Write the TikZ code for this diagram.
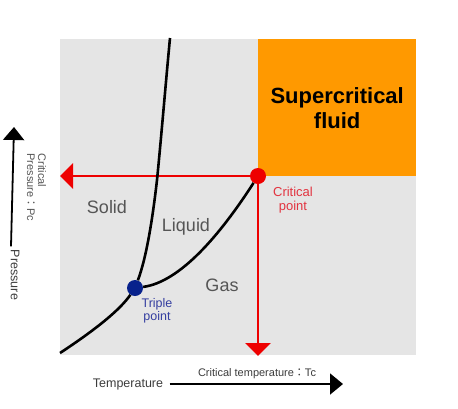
\documentclass[tikz,border=0pt]{standalone}
\usepackage{fontspec}
\setmainfont{Liberation Sans}
\newfontfamily\cjk{Noto Sans CJK JP}
\usetikzlibrary{positioning,arrows.meta}
\definecolor{PhaseGray}{RGB}{229,229,229}
\definecolor{FluidOrange}{RGB}{255,153,0}
\definecolor{CritRed}{RGB}{238,0,0}
\definecolor{CritText}{RGB}{226,52,64}
\definecolor{TripleBlue}{RGB}{8,34,140}
\definecolor{TripleText}{RGB}{52,62,160}
\definecolor{LabelGray}{RGB}{85,85,85}
\definecolor{AxisText}{RGB}{60,60,60}
\tikzset{
  redarrow/.style={-{Triangle[length=13pt,width=25pt]},line width=2.6pt,draw=CritRed},
  axisarrow/.style={-{Triangle[length=13pt,width=21pt]},line width=1.8pt,draw=black},
  boundary/.style={line width=2.6pt,draw=black},
  regionbox/.style={fill=PhaseGray,inner sep=0pt,anchor=north west},
  fluidbox/.style={fill=FluidOrange,inner sep=0pt,anchor=north west,align=center,
    font=\bfseries\fontsize{22}{25}\selectfont},
  phaselabel/.style={font=\fontsize{18}{20}\selectfont,text=LabelGray},
  critdot/.style={circle,fill=CritRed,minimum size=16pt,inner sep=0pt},
  tripdot/.style={circle,fill=TripleBlue,minimum size=16pt,inner sep=0pt},
  axislabel/.style={font=\fontsize{12.5}{14}\selectfont,text=AxisText},
  smalllabel/.style={font=\fontsize{11}{11.5}\selectfont,text=LabelGray}
}
\begin{document}
\begin{tikzpicture}[x=1pt,y=-1pt]
  \useasboundingbox (0,0) rectangle (458,408);
  % phase regions
  \node[regionbox,minimum width=356pt,minimum height=316pt] (plot) at (60,39) {};
  \node[fluidbox,minimum width=158pt,minimum height=137pt] (scf) at (258,39) {Supercritical\\fluid};
  \node[phaselabel] (solid) at (107,207) {Solid};
  \node[phaselabel] (liquid) at (186,227) {Liquid};
  \node[phaselabel] (gas) at (222,285) {Gas};
  % points
  \node[critdot] (crit) at (258,176) {};
  \node[tripdot] (trip) at (135,288) {};
  \coordinate (pcTip) at (60,176);
  \coordinate (tcTip) at (258,356);
  \coordinate (subStart) at (60,353);
  \coordinate (meltEnd) at (170,38);
  \draw[redarrow] (crit) -- (pcTip);
  \draw[redarrow] (crit) -- (tcTip);
  % phase boundaries
  \draw[boundary] (subStart) .. controls (95,330) and (120,310) .. (trip);
  \draw[boundary] (trip) .. controls (147,256) and (153,215) .. (157,180)
    .. controls (161,140) and (166,80) .. (meltEnd);
  \draw[boundary] (trip) .. controls (180,282) and (220,235) .. (crit);
  \node[font=\fontsize{13}{14.5}\selectfont,text=CritText,align=center] (critlabel) at (293,200) {Critical\\point};
  \node[font=\fontsize{12.5}{13}\selectfont,text=TripleText,align=center] (triplabel) at (157,311) {Triple\\point};
  % axes
  \node[axislabel] (templabel) at (128,384) {Temperature};
  \coordinate (tTip) at (343,384);
  \draw[axisarrow] ([xshift=3pt]templabel.east) -- (tTip);
  \node[smalllabel,text=AxisText] (tclabel) at (257,374) {Critical temperature{\cjk ：}Tc};
  \node[axislabel,rotate=-90] (preslabel) at (15,275) {Pressure};
  \coordinate (pTip) at (14,127);
  \draw[axisarrow] ([xshift=-4pt]preslabel.west) -- (pTip);
  \node[smalllabel,rotate=-90,anchor=west] (pcline1) at (42,150) {Critical};
  \node[smalllabel,rotate=-90,anchor=west] (pcline2) at (31,150) {Pressure{\cjk ：}Pc};
\end{tikzpicture}
\end{document}
